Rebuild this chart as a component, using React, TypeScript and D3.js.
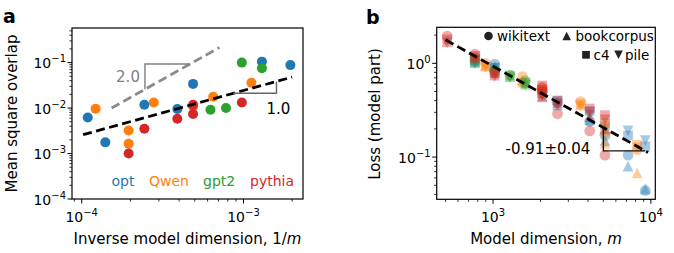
import * as d3 from "d3";

const FONT = "'DejaVu Sans', sans-serif";
const OPT = "#1f77b4";
const QWEN = "#ff7f0e";
const GPT2 = "#2ca02c";
const PYTHIA = "#d62728";

// ---- panel a: mean square overlap vs inverse model dimension
const optInvDim = [1.09e-4, 1.4e-4, 2.44e-4, 3.9e-4, 4.88e-4, 1.3e-3, 1.95e-3];
const optOverlap = [6.2e-3, 1.76e-3, 1.18e-2, 9.5e-3, 3.4e-2, 0.105, 0.088];
const qwenInvDim = [1.22e-4, 1.95e-4, 1.95e-4, 2.79e-4, 4.88e-4, 6.5e-4, 1.12e-3];
const qwenOverlap = [9.7e-3, 3.2e-3, 1.65e-3, 1.33e-2, 1.08e-2, 1.77e-2, 3.6e-2];
const gpt2InvDim = [6.25e-4, 7.8e-4, 9.77e-4, 1.3e-3];
const gpt2Overlap = [9.2e-3, 1.0e-2, 0.1, 0.0754];
const pythiaInvDim = [1.95e-4, 2.44e-4, 3.9e-4, 4.88e-4, 4.88e-4, 9.77e-4];
const pythiaOverlap = [1.0e-3, 3.5e-3, 5.8e-3, 7.4e-3, 1.18e-2, 1.33e-2];

const fitAx = [1.02e-4, 2.0e-3];
const fitAy = [2.6e-3, 0.048];
const guideAx = [1.53e-4, 7.1e-4];
const guideAy = [0.01, 0.215];
const slopeOneX = [8.65e-4, 1.6e-3];
const slopeTwoX = [2.46e-4, 4.67e-4];

// ---- panel b: loss vs model dimension, rows = [dim, wikitext, bookcorpus, c4, pile]
const optLoss = [
  [768, 1.05, 1.1, 1.0, 1.0],
  [1024, 0.98, 0.92, 0.9, 0.88],
  [2048, 0.5, 0.45, 0.48, 0.46],
  [2560, 0.38, 0.36, 0.4, 0.37],
  [4096, 0.24, 0.25, 0.31, 0.28],
  [5120, 0.17, 0.15, 0.22, 0.2],
  [7168, 0.105, 0.08, 0.17, 0.19],
  [9216, 0.044, 0.046, 0.13, 0.15],
];
const qwenLoss = [
  [896, 1.0, 0.95, 0.92, 0.9],
  [1536, 0.72, 0.66, 0.62, 0.6],
  [2048, 0.55, 0.5, 0.52, 0.48],
  [3584, 0.39, 0.36, 0.37, 0.35],
  [5120, 0.18, 0.14, 0.23, 0.21],
  [8192, 0.12, 0.068, 0.135, 0.125],
];
const gpt2Loss = [
  [768, 1.15, 1.05, 1.1, 1.05],
  [1024, 0.85, 0.8, 0.82, 0.78],
  [1280, 0.75, 0.72, 0.74, 0.7],
  [1600, 0.65, 0.6, 0.62, 0.58],
];
const pythiaLoss = [
  [512, 1.95, 1.7, 1.8, 1.65],
  [768, 1.25, 1.15, 1.2, 1.1],
  [1024, 0.8, 0.75, 0.78, 0.72],
  [2048, 0.55, 0.48, 0.52, 0.45],
  [2048, 0.5, 0.44, 0.58, 0.47],
  [2560, 0.29, 0.38, 0.4, 0.36],
  [4096, 0.19, 0.27, 0.33, 0.3],
  [5120, 0.105, 0.2, 0.28, 0.25],
];
const datasets = ["wikitext", "bookcorpus", "c4", "pile"];
const shapes = ["circle", "up", "square", "down"];
const fitBx = [500, 9600];
const fitBy = [1.78, 0.112];
const slopeBX = [5000, 9200];

const W = 674;
const H = 253;
const TICK = 14;
const LABEL = 15;

function markerPath(shape: string, r = 5) {
  const p = d3.path();
  if (shape === "circle") {
    p.moveTo(r, 0);
    p.arc(0, 0, r, 0, 2 * Math.PI);
  } else if (shape === "square") {
    p.rect(-r * 0.9, -r * 0.9, r * 1.8, r * 1.8);
  } else if (shape === "up") {
    p.moveTo(0, -r);
    p.lineTo(r, r);
    p.lineTo(-r, r);
    p.closePath();
  } else {
    p.moveTo(0, r);
    p.lineTo(r, -r);
    p.lineTo(-r, -r);
    p.closePath();
  }
  return p.toString();
}

function logTicks(domain: number[]) {
  const lo = Math.min(domain[0], domain[1]);
  const hi = Math.max(domain[0], domain[1]);
  const major: number[] = [];
  const minor: number[] = [];
  for (let e = Math.floor(Math.log10(lo)); e <= Math.ceil(Math.log10(hi)); e++) {
    for (let k = 1; k < 10; k++) {
      const v = k * Math.pow(10, e);
      if (v < lo * 0.999 || v > hi * 1.001) continue;
      (k === 1 ? major : minor).push(v);
    }
  }
  return { major, minor };
}

function Pow10({ x, y, e, anchor }: { x: number; y: number; e: number; anchor: string }) {
  const exp = e < 0 ? `\u2212${-e}` : `${e}`;
  return (
    <text x={x} y={y} textAnchor={anchor} fontSize={TICK} fill="#000">
      10
      <tspan dy={-6} fontSize={10}>
        {exp}
      </tspan>
    </text>
  );
}

type Scale = d3.ScaleLogarithmic<number, number>;

function Axes({ x, y }: { x: Scale; y: Scale }) {
  const [x0, x1] = x.range();
  const [y0, y1] = y.range();
  const xt = logTicks(x.domain());
  const yt = logTicks(y.domain());
  return (
    <g>
      {xt.minor.map((v) => (
        <line key={"xm" + v} x1={x(v)} x2={x(v)} y1={y0} y2={y0 + 2.6} stroke="#000" strokeWidth={0.8} />
      ))}
      {xt.major.map((v) => (
        <g key={"xM" + v}>
          <line x1={x(v)} x2={x(v)} y1={y0} y2={y0 + 4.5} stroke="#000" strokeWidth={1} />
          <Pow10 x={x(v)} y={y0 + 22.5} e={Math.round(Math.log10(v))} anchor="middle" />
        </g>
      ))}
      {yt.minor.map((v) => (
        <line key={"ym" + v} x1={x0} x2={x0 - 2.6} y1={y(v)} y2={y(v)} stroke="#000" strokeWidth={0.8} />
      ))}
      {yt.major.map((v) => (
        <g key={"yM" + v}>
          <line x1={x0} x2={x0 - 4.5} y1={y(v)} y2={y(v)} stroke="#000" strokeWidth={1} />
          <Pow10 x={x0 - 6} y={y(v) + 5.5} e={Math.round(Math.log10(v))} anchor="end" />
        </g>
      ))}
      <rect x={x0} y={y1} width={x1 - x0} height={y0 - y1} fill="none" stroke="#000" strokeWidth={1.2} />
    </g>
  );
}

function lerpLog(xs: number[], ys: number[], v: number) {
  const t = (Math.log(v) - Math.log(xs[0])) / (Math.log(xs[1]) - Math.log(xs[0]));
  return Math.exp(Math.log(ys[0]) + t * (Math.log(ys[1]) - Math.log(ys[0])));
}

function PanelA() {
  const x = d3.scaleLog().domain([Math.pow(10, -4.06), Math.pow(10, -2.632)]).range([72, 303]);
  const y = d3.scaleLog().domain([1e-4, Math.pow(10, -0.239)]).range([199, 28]);
  const fitPath = d3.line<number>().x((_, i) => x(fitAx[i])).y((_, i) => y(fitAy[i]))([0, 1]);
  const guidePath = d3.line<number>().x((_, i) => x(guideAx[i])).y((_, i) => y(guideAy[i]))([0, 1]);

  const one = slopeOneX.map((v) => lerpLog(fitAx, fitAy, v));
  const onePath = `M${x(slopeOneX[0])},${y(one[0])}L${x(slopeOneX[1])},${y(one[0])}L${x(slopeOneX[1])},${y(one[1])}`;
  const two = slopeTwoX.map((v) => lerpLog(guideAx, guideAy, v));
  const twoPath = `M${x(slopeTwoX[0])},${y(two[0])}L${x(slopeTwoX[0])},${y(two[1])}L${x(slopeTwoX[1])},${y(two[1])}`;

  const series = [
    { xs: optInvDim, ys: optOverlap, c: OPT },
    { xs: qwenInvDim, ys: qwenOverlap, c: QWEN },
    { xs: gpt2InvDim, ys: gpt2Overlap, c: GPT2 },
    { xs: pythiaInvDim, ys: pythiaOverlap, c: PYTHIA },
  ];
  const legend = [
    { t: "opt", c: OPT, x: 111.5 },
    { t: "Qwen", c: QWEN, x: 149 },
    { t: "gpt2", c: GPT2, x: 203 },
    { t: "pythia", c: PYTHIA, x: 250 },
  ];

  return (
    <g>
      <text x={3} y={23} fontSize={19} fontWeight="bold">a</text>
      {series.map((s) =>
        s.xs.map((v, i) => <circle key={s.c + i} cx={x(v)} cy={y(s.ys[i])} r={5} fill={s.c} />)
      )}
      <path d={guidePath ?? ""} fill="none" stroke="#8c8c8c" strokeWidth={2.8} strokeDasharray="9 4.5" />
      <path d={fitPath ?? ""} fill="none" stroke="#000" strokeWidth={2.8} strokeDasharray="9 4.5" />
      <path d={twoPath} fill="none" stroke="#808080" strokeWidth={1.4} />
      <path d={onePath} fill="none" stroke="#666" strokeWidth={1.4} />
      <text x={x(slopeTwoX[0]) - 5} y={y(two[0]) - 7.6} textAnchor="end" fontSize={15} fill="#808080">2.0</text>
      <text x={x(slopeOneX[1]) - 10} y={y(one[0]) + 21} fontSize={15} fill="#000">1.0</text>
      {legend.map((l) => (
        <text key={l.t} x={l.x} y={186} fontSize={14} fill={l.c}>{l.t}</text>
      ))}
      <Axes x={x} y={y} />
      <text transform="translate(16.5,113.5) rotate(-90)" textAnchor="middle" fontSize={LABEL}>Mean square overlap</text>
      <text x={187.5} y={244} textAnchor="middle" fontSize={LABEL}>
        Inverse model dimension, 1/<tspan fontStyle="italic">m</tspan>
      </text>
    </g>
  );
}

function PanelB() {
  const x = d3.scaleLog().domain([Math.pow(10, 2.643), Math.pow(10, 4.028)]).range([436.7, 655.3]);
  const y = d3.scaleLog().domain([Math.pow(10, -1.45), Math.pow(10, 0.384)]).range([199.3, 27.3]);
  const fitPath = d3.line<number>().x((_, i) => x(fitBx[i])).y((_, i) => y(fitBy[i]))([0, 1]);
  const tri = slopeBX.map((v) => lerpLog(fitBx, fitBy, v));
  const triPath = `M${x(slopeBX[0])},${y(tri[0])}L${x(slopeBX[0])},${y(tri[1])}L${x(slopeBX[1])},${y(tri[1])}`;

  const families = [
    { rows: optLoss, c: OPT },
    { rows: qwenLoss, c: QWEN },
    { rows: gpt2Loss, c: GPT2 },
    { rows: pythiaLoss, c: PYTHIA },
  ];
  const legend = [
    { i: 0, mx: 488.5, ty: 40.7, tx: 497 },
    { i: 1, mx: 566.7, ty: 40.7, tx: 575.5 },
    { i: 2, mx: 586, ty: 59.5, tx: 593.5 },
    { i: 3, mx: 618.5, ty: 59.5, tx: 625 },
  ];

  return (
    <g>
      <text x={366} y={24} fontSize={19} fontWeight="bold">b</text>
      {families.map((f) =>
        f.rows.map((row, j) =>
          shapes.map((s, k) => (
            <path
              key={f.c + j + s}
              d={markerPath(s, 5.4)}
              transform={`translate(${x(row[0])},${y(row[k + 1])})`}
              fill={f.c}
              fillOpacity={0.4}
            />
          ))
        )
      )}
      <path d={fitPath ?? ""} fill="none" stroke="#000" strokeWidth={2.8} strokeDasharray="9 4.5" />
      <path d={triPath} fill="none" stroke="#111" strokeWidth={1.4} />
      <text x={x(slopeBX[0]) - 13} y={y(tri[1]) + 3} textAnchor="end" fontSize={15}>-0.91±0.04</text>
      {legend.map((l) => (
        <g key={datasets[l.i]}>
          <path d={markerPath(shapes[l.i], 4.3)} transform={`translate(${l.mx},${l.ty - 4.7})`} fill="#222" />
          <text x={l.tx} y={l.ty} fontSize={13.5}>{datasets[l.i]}</text>
        </g>
      ))}
      <Axes x={x} y={y} />
      <text transform="translate(380,114) rotate(-90)" textAnchor="middle" fontSize={LABEL}>Loss (model part)</text>
      <text x={546} y={244} textAnchor="middle" fontSize={LABEL}>
        Model dimension, <tspan fontStyle="italic">m</tspan>
      </text>
    </g>
  );
}

export default function App() {
  return (
    <svg
      width={W}
      height={H}
      viewBox={`0 0 ${W} ${H}`}
      style={{ position: "absolute", left: 0, top: 0, background: "#fff" }}
      fontFamily={FONT}
    >
      <PanelA />
      <PanelB />
    </svg>
  );
}
